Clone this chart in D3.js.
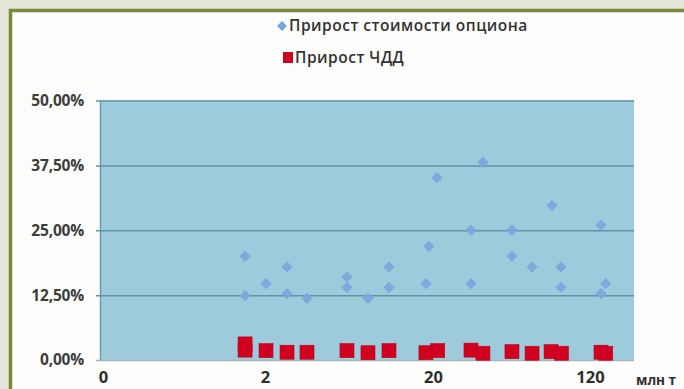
<!DOCTYPE html>
<html>
<head>
<meta charset="utf-8">
<script src="https://cdn.jsdelivr.net/npm/d3@7"></script>
<style>
  html, body { margin: 0; padding: 0; background: #e5e5d9; }
  svg { display: block; }
  text { font-family: "Open Sans", "DejaVu Sans", sans-serif; }
</style>
</head>
<body>
<svg id="chart" width="684" height="389"></svg>
<script>
// Axis ticks: positions along the x axis and the labels shown there
const xTickPos = [0, 1, 2, 3];
const xTickLabels = ["0", "2", "20", "120"];
const xUnit = "млн т";
const yTicks = [0, 0.125, 0.25, 0.375, 0.5];

// Series names
const seriesNames = ["Прирост стоимости опциона", "Прирост ЧДД"];

// Прирост стоимости опциона: x position and value
const optionX = [0.877, 0.877, 1.006, 1.131, 1.131, 1.25, 1.488, 1.488, 1.613, 1.738, 1.738,
                 1.958, 1.976, 2.025, 2.242, 2.242, 2.318, 2.503, 2.503, 2.631, 2.758,
                 2.815, 2.815, 3.07, 3.07, 3.10];
const optionY = [0.200, 0.124, 0.147, 0.179, 0.128, 0.119, 0.160, 0.140, 0.119, 0.179, 0.140,
                 0.147, 0.219, 0.351, 0.250, 0.147, 0.381, 0.250, 0.200, 0.179, 0.298,
                 0.179, 0.140, 0.260, 0.128, 0.147];

// Прирост ЧДД: x position and value
const npvX = [0.877, 0.877, 1.006, 1.131, 1.25, 1.488, 1.613, 1.738, 1.958, 2.03,
              2.242, 2.318, 2.503, 2.631, 2.752, 2.818, 3.07, 3.10];
const npvY = [0.031, 0.019, 0.018, 0.015, 0.015, 0.018, 0.014, 0.018, 0.014, 0.018,
              0.019, 0.013, 0.016, 0.013, 0.016, 0.013, 0.015, 0.013];

const svg = d3.select("#chart");

// Framed white card
svg.append("rect").attr("x", 10.5).attr("y", 10.5).attr("width", 700).attr("height", 400)
  .attr("fill", "#fdfdfb").attr("stroke", "#77893b").attr("stroke-width", 3.5);

const plot = { left: 100, right: 634, top: 100.5, bottom: 360 };

const x = d3.scaleLinear()
  .domain([-0.019, 0, 1, 2, 3, 3.28])
  .range([plot.left, 103, 265, 433, 590, plot.right]);
const y = d3.scaleLinear().domain([0, 0.5]).range([plot.bottom, plot.top]);

// Plot area
svg.append("rect")
  .attr("x", plot.left).attr("y", plot.top)
  .attr("width", plot.right - plot.left).attr("height", plot.bottom - plot.top)
  .attr("fill", "#9ecbdc");

// Horizontal gridlines with y labels
const fmt = v => d3.format(".2%")(v).replace(".", ",");
const yAxis = d3.axisLeft(y).tickValues(yTicks).tickFormat(fmt)
  .tickSize(-(plot.right - plot.left)).tickSizeOuter(0).tickPadding(16);
const gy = svg.append("g").attr("transform", `translate(${plot.left},0)`).call(yAxis);
gy.select(".domain").attr("stroke", "#6c9cb0").attr("stroke-width", 1.5);
gy.selectAll(".tick line").attr("stroke", "#5f94a5").attr("stroke-width", 1.5)
  .attr("x1", -4);
gy.selectAll(".tick").filter(d => d === 0).select("line").attr("stroke", "#a9b6ba");
gy.selectAll(".tick text").attr("fill", "#3c3c3c").attr("font-size", 15.5)
  .attr("font-weight", 700).attr("letter-spacing", -0.2);

// X axis labels
const xAxis = d3.axisBottom(x).tickValues(xTickPos)
  .tickFormat((d, i) => xTickLabels[i]).tickSize(0).tickPadding(10);
const gx = svg.append("g").attr("transform", `translate(0,${plot.bottom})`).call(xAxis);
gx.select(".domain").remove();
gx.selectAll(".tick text").attr("fill", "#2e2e2e").attr("font-size", 16.5)
  .attr("font-weight", 700).attr("dy", "0.8em");
svg.append("text").attr("x", 656).attr("y", 385).attr("text-anchor", "middle")
  .attr("font-size", 13.5).attr("font-weight", 700).attr("fill", "#2e2e2e").text(xUnit);

// Прирост стоимости опциона markers (diamonds)
const dSide = 8;
const optionData = optionX.map((v, i) => [v, optionY[i]]);
svg.append("g").selectAll("rect").data(optionData).join("rect")
  .attr("x", -dSide / 2).attr("y", -dSide / 2).attr("width", dSide).attr("height", dSide)
  .attr("transform", d => `translate(${x(d[0])},${y(d[1])}) rotate(45)`)
  .attr("fill", "#78a6dc").attr("fill-opacity", 0.9);

// Прирост ЧДД markers (squares)
const sSide = 14;
const npvData = npvX.map((v, i) => [v, npvY[i]]);
svg.append("g").selectAll("rect").data(npvData).join("rect")
  .attr("x", d => x(d[0]) - sSide / 2).attr("y", d => y(d[1]) - sSide / 2)
  .attr("width", sSide).attr("height", sSide)
  .attr("fill", "#d0021f").attr("stroke", "#b8001a").attr("stroke-width", 0.6);

// Legend
const legend = svg.append("g");
legend.append("rect").attr("x", -3.5).attr("y", -3.5).attr("width", 7).attr("height", 7)
  .attr("transform", "translate(282,26) rotate(45)").attr("fill", "#78a6dc");
legend.append("text").attr("x", 289).attr("y", 26).attr("dy", "0.35em")
  .attr("font-size", 15.5).attr("font-weight", 600).attr("letter-spacing", 0.5)
  .attr("fill", "#333").text(seriesNames[0]);
legend.append("rect").attr("x", 283).attr("y", 52).attr("width", 10).attr("height", 11)
  .attr("fill", "#d0021f");
legend.append("text").attr("x", 295).attr("y", 58).attr("dy", "0.35em")
  .attr("font-size", 15.5).attr("font-weight", 600).attr("letter-spacing", 0.5)
  .attr("fill", "#333").text(seriesNames[1]);
</script>
</body>
</html>
